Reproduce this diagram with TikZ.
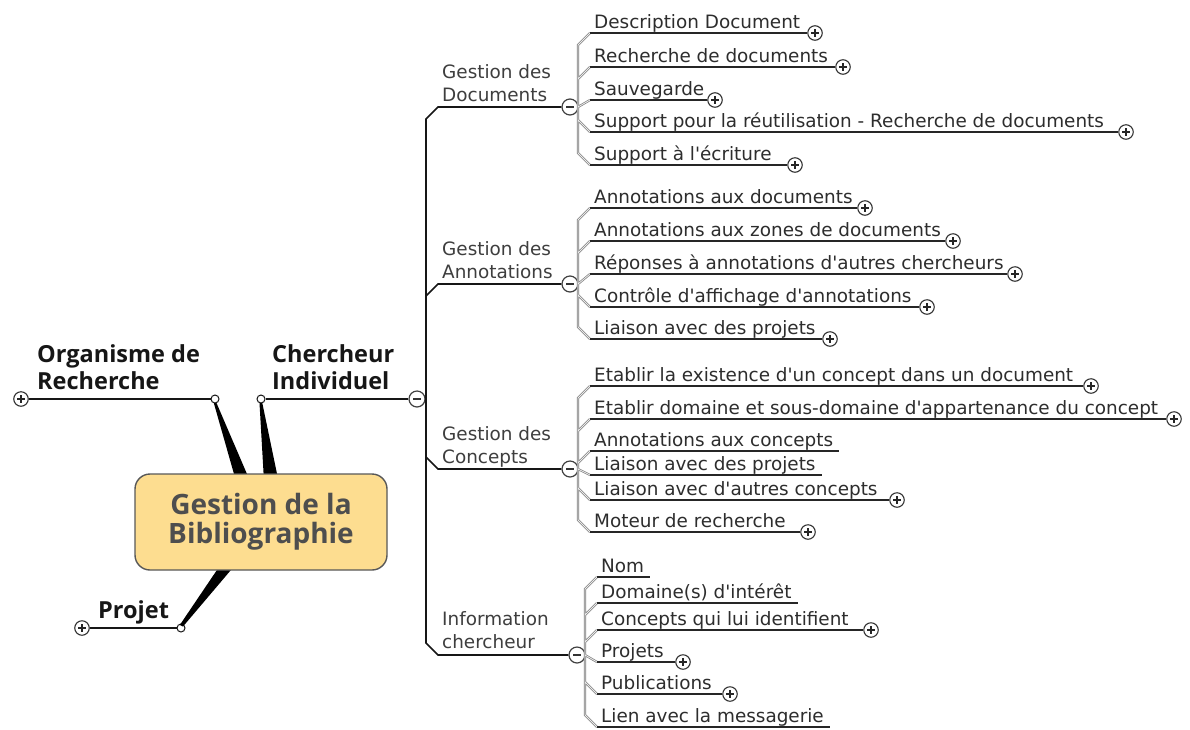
\documentclass[tikz,border=0pt]{standalone}
\usepackage{fontspec}
\newfontfamily\leaffont{DejaVu Sans}
\newfontfamily\headfont{Open Sans}
\usetikzlibrary{calc}

\definecolor{boxfill}{RGB}{253,221,144}
\definecolor{boxedge}{RGB}{88,88,88}
\definecolor{boxtext}{RGB}{78,78,78}
\definecolor{leaftext}{RGB}{45,45,45}
\definecolor{midtext}{RGB}{62,62,62}
\definecolor{ink}{RGB}{22,22,22}

% leaf with a collapsed-branch marker at the end of its underline
\newcommand\leafplus[5]{%
  \coordinate (#1) at (#2,#3);
  \node[leaf] (#1t) at (#2+4,#3-5) {#4};
  \node[pluscirc] (#1p) at (#5,#3) {};
  \draw[leafline] (#1) -- (#1p);}
% leaf whose underline simply ends after the text
\newcommand\leafbare[4]{%
  \coordinate (#1) at (#2,#3);
  \node[leaf] (#1t) at (#2+4,#3-5) {#4};
  \draw[leafline] (#1) -- ($(#1t.base east)+(6,5)$);}

\begin{document}
\begin{tikzpicture}[x=1pt,y=-1pt,
  leaf/.style={anchor=base west, inner sep=0pt, text=leaftext,
    font=\leaffont\fontsize{18.4}{23}\selectfont},
  mid/.style={anchor=base west, inner sep=0pt, align=left, text=midtext,
    font=\leaffont\fontsize{18.4}{23}\selectfont},
  head/.style={anchor=base west, inner sep=0pt, align=left, text=ink,
    font=\headfont\bfseries\fontsize{23.5}{27}\selectfont},
  centre/.style={draw=boxedge, fill=boxfill, line width=1.4pt, rounded corners=15pt,
    minimum width=252pt, minimum height=96pt, align=center, text=boxtext,
    font=\headfont\bfseries\fontsize{28}{29}\selectfont},
  main/.style={draw=ink, line width=1.6pt},
  leafline/.style={draw=black!85, line width=1.6pt},
  trunk/.style={draw=black!50, double=black!8, double distance=0.8pt, line width=0.7pt},
  wedge/.style={fill=black},
  knob/.style={circle, draw=ink, fill=white, line width=1pt, minimum size=8pt, inner sep=0pt},
  pluscirc/.style={circle, draw=black!80, fill=white, line width=1.1pt, minimum size=14.5pt, inner sep=0pt,
    path picture={\draw[black!85, line width=1.2pt]
      ([xshift=-3.6pt]path picture bounding box.center) -- ([xshift=3.6pt]path picture bounding box.center)
      ([yshift=-3.6pt]path picture bounding box.center) -- ([yshift=3.6pt]path picture bounding box.center);}},
  minuscirc/.style={circle, draw=black!75, fill=white, line width=1.2pt, minimum size=16pt, inner sep=0pt,
    path picture={\draw[black!80, line width=1.4pt]
      ([xshift=-3.8pt]path picture bounding box.center) -- ([xshift=3.8pt]path picture bounding box.center);}}
]
\fill[white] (0,0) rectangle (1190,729);
\useasboundingbox (0,0) rectangle (1190,729);

% ---- main topics around the central box ----
\node[knob] (orgk) at (215,399) {};
\node[knob] (chk) at (261,399) {};
\node[knob] (prk) at (181,628) {};

\fill[wedge] (213.8,403) -- (236,481) -- (250,481) -- (216.5,403) -- cycle;
\fill[wedge] (259.5,403) -- (264,481) -- (278.5,481) -- (262.3,403) -- cycle;
\fill[wedge] (179.8,625) -- (221,564) -- (236,564) -- (183,626.5) -- cycle;

\node[centre] (box) at (261,522) {Gestion de la\\Bibliographie};

\node[pluscirc] (orgp) at (21,399) {};
\node[pluscirc] (prp) at (82,628) {};
\node[minuscirc] (chm) at (417,399) {};

\draw[main] (orgp) -- (orgk);
\draw[main] (prp) -- (prk);
\draw[main] (chk) -- (chm);

% multi-line labels: the base anchor sits on the last line
\node[head] (orgl) at (37,389) {Organisme de\\Recherche};
\node[head] (chl) at (272,389) {Chercheur\\Individuel};
\node[head] (prl) at (98,618) {Projet};

% ---- sub-topics of "Chercheur Individuel" ----
\node[minuscirc] (docm) at (570,107) {};
\node[minuscirc] (annm) at (570,284) {};
\node[minuscirc] (conm) at (570,469) {};
\node[minuscirc] (infm) at (577,655) {};

\draw[main] (docm) -- (438,107) -- (426,119) -- (426,643) -- (438,655) -- (infm);
\draw[main] (annm) -- (438,284) -- (426,296);
\draw[main] (conm) -- (438,469) -- (426,457);

\node[mid] (docl) at (442,101) {Gestion des\\Documents};
\node[mid] (annl) at (442,278) {Gestion des\\Annotations};
\node[mid] (conl) at (442,463) {Gestion des\\Concepts};
\node[mid] (infl) at (442,648) {Information\\chercheur};

% ---- Gestion des Documents ----
\coordinate (d1) at (590,33);
\coordinate (d2) at (590,67);
\coordinate (d3) at (590,100);
\coordinate (d4) at (590,132);
\coordinate (d5) at (590,165);
\draw[trunk] (d1) -- (578,45) -- (578,153) -- (d5)
  (578,79) -- (d2) (578,107) -- (d3) (578,120) -- (d4);
\leafplus{d1}{590}{33}{Description Document}{815}
\leafplus{d2}{590}{67}{Recherche de documents}{843}
\leafplus{d3}{590}{100}{Sauvegarde}{715}
\leafplus{d4}{590}{132}{Support pour la réutilisation - Recherche de documents}{1126}
\leafplus{d5}{590}{165}{Support à l'écriture}{795}

% ---- Gestion des Annotations ----
\coordinate (a1) at (590,208);
\coordinate (a2) at (590,241);
\coordinate (a3) at (590,274);
\coordinate (a4) at (590,307);
\coordinate (a5) at (590,339);
\draw[trunk] (a1) -- (578,220) -- (578,327) -- (a5)
  (578,253) -- (a2) (578,284) -- (a3) (578,295) -- (a4);
\leafplus{a1}{590}{208}{Annotations aux documents}{865}
\leafplus{a2}{590}{241}{Annotations aux zones de documents}{953}
\leafplus{a3}{590}{274}{Réponses à annotations d'autres chercheurs}{1015}
\leafplus{a4}{590}{307}{Contrôle d'affichage d'annotations}{927}
\leafplus{a5}{590}{339}{Liaison avec des projets}{830}

% ---- Gestion des Concepts ----
\coordinate (c1) at (590,386);
\coordinate (c2) at (590,419);
\coordinate (c3) at (590,451);
\coordinate (c4) at (590,475);
\coordinate (c5) at (590,500);
\coordinate (c6) at (590,532);
\draw[trunk] (c1) -- (578,398) -- (578,520) -- (c6)
  (578,431) -- (c2) (578,463) -- (c3) (578,469) -- (c4) (578,488) -- (c5);
\leafplus{c1}{590}{386}{Etablir la existence d'un concept dans un document}{1091}
\leafplus{c2}{590}{419}{Etablir domaine et sous-domaine d'appartenance du concept}{1174}
\leafbare{c3}{590}{451}{Annotations aux concepts}
\leafbare{c4}{590}{475}{Liaison avec des projets}
\leafplus{c5}{590}{500}{Liaison avec d'autres concepts}{897}
\leafplus{c6}{590}{532}{Moteur de recherche}{808}

% ---- Information chercheur ----
\coordinate (i1) at (597,577);
\coordinate (i2) at (597,603);
\coordinate (i3) at (597,630);
\coordinate (i4) at (597,662);
\coordinate (i5) at (597,694);
\coordinate (i6) at (597,727);
\draw[trunk] (i1) -- (585,589) -- (585,715) -- (i6)
  (585,615) -- (i2) (585,642) -- (i3) (585,655) -- (i4) (585,682) -- (i5);
\leafbare{i1}{597}{577}{Nom}
\leafbare{i2}{597}{603}{Domaine(s) d'intérêt}
\leafplus{i3}{597}{630}{Concepts qui lui identifient}{871}
\leafplus{i4}{597}{662}{Projets}{683}
\leafplus{i5}{597}{694}{Publications}{730}
\leafbare{i6}{597}{727}{Lien avec la messagerie}
\end{tikzpicture}
\end{document}
